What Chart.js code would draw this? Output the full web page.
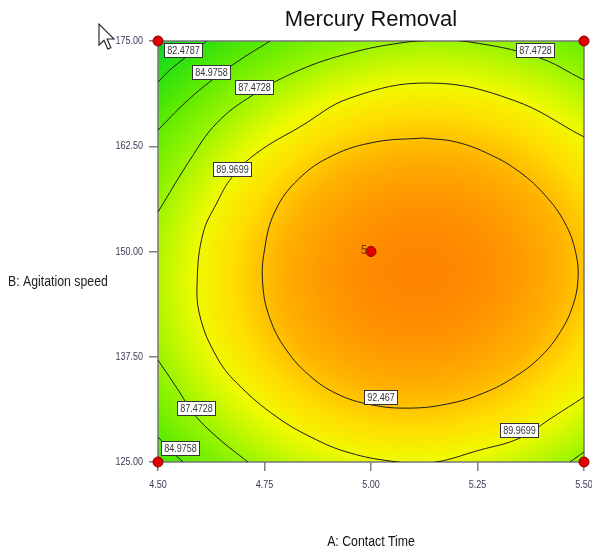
<!DOCTYPE html>
<html>
<head>
<meta charset="utf-8">
<script src="https://cdn.jsdelivr.net/npm/chart.js@4.4.1/dist/chart.umd.min.js"></script>
<style>
  body { margin: 0; background: #fff; }
  canvas { display: block; }
</style>
</head>
<body>
<canvas id="contourChart" width="592" height="550"></canvas>
<script>
// axis ticks
const timeTicks = [4.5, 4.75, 5.0, 5.25, 5.5];
const speedTicks = [125, 137.5, 150, 162.5, 175];

// fitted model in coded units: intercept, A, B, AB, A^2, B^2
const modelTerms = [94.66, 2.11, -1.32, 0.50, -4.49, -6.21];

// design points (A, B, replicates)
const designTime = [4.5, 4.5, 5.5, 5.5, 5.0];
const designSpeed = [125, 175, 125, 175, 150];
const designReps = [1, 1, 1, 1, 5];

// contour lines, [time, speed]
const c82 = [[4.615, 175.0], [4.563, 172.98], [4.528, 171.56], [4.5, 170.13]];
const c85top = [[4.763, 175.0], [4.692, 172.74], [4.627, 170.37], [4.563, 167.64], [4.5, 164.43]];
const c85low = [[4.5, 127.97], [4.528, 126.43], [4.559, 125.0]];
const c87top = [[4.5, 154.69], [4.575, 160.87], [4.638, 165.26], [4.723, 168.59], [4.833, 171.56],
  [4.951, 173.57], [5.068, 174.76], [5.150, 175.06], [5.232, 174.88], [5.390, 173.1], [5.5, 170.37]];
const c87low = [[4.5, 137.11], [4.552, 133.19], [4.582, 130.82], [4.638, 127.97], [4.711, 125.0]];
const c87corner = [[5.467, 125.0], [5.5, 126.19]];
const c90 = [[5.5, 163.6], [5.333, 167.99], [5.138, 170.01], [4.951, 168.23], [4.833, 164.79],
  [4.732, 161.70], [4.674, 158.85], [4.638, 155.76], [4.606, 152.20], [4.592, 146.62],
  [4.599, 142.22], [4.638, 137.47], [4.685, 134.38], [4.779, 130.34], [4.873, 127.61],
  [4.951, 126.07], [5.045, 125.12], [5.138, 124.88], [5.256, 126.43], [5.350, 127.85],
  [5.427, 130.34], [5.5, 132.72]];
const c92 = [[5.122, 163.48], [5.200, 163.0], [5.280, 161.5], [5.350, 159.4], [5.410, 156.6],
  [5.455, 153.4], [5.480, 150.0], [5.486, 146.8], [5.474, 143.6],
  [5.445, 140.5], [5.400, 137.6], [5.340, 135.2], [5.265, 133.2],
  [5.180, 131.9], [5.090, 131.4], [5.000, 131.8], [4.920, 133.1], [4.855, 135.3],
  [4.800, 138.4], [4.763, 142.0], [4.746, 146.0], [4.750, 150.2], [4.775, 154.8],
  [4.830, 158.6], [4.910, 161.4], [5.010, 163.0], [5.122, 163.48]];

// contour labels: [level, time, speed]
const labelSpots = [
  [82.4787, 4.559, 173.93], [84.9758, 4.624, 171.32], [87.4728, 4.725, 169.54],
  [87.4728, 5.385, 173.93], [89.9699, 4.674, 159.80], [92.467, 5.023, 132.72],
  [87.4728, 4.589, 131.41], [84.9758, 4.552, 126.66], [89.9699, 5.347, 128.80]
];

const sans = "'Liberation Sans', Arial, sans-serif";

function predict(a, b) {
  const m = modelTerms;
  return m[0] + m[1] * a + m[2] * b + m[3] * a * b + m[4] * a * a + m[5] * b * b;
}

// green -> yellow -> orange
const stops = [
  [80, [10, 215, 40]], [82.5, [45, 225, 15]], [85, [95, 235, 0]], [87.5, [155, 245, 0]],
  [90, [240, 250, 0]], [91.5, [255, 222, 0]], [93, [255, 178, 0]], [95, [255, 132, 0]]
];
function colorFor(v) {
  if (v <= stops[0][0]) return stops[0][1];
  for (let i = 1; i < stops.length; i++) {
    if (v <= stops[i][0]) {
      const t = (v - stops[i - 1][0]) / (stops[i][0] - stops[i - 1][0]);
      const c0 = stops[i - 1][1], c1 = stops[i][1];
      return [c0[0] + t * (c1[0] - c0[0]), c0[1] + t * (c1[1] - c0[1]), c0[2] + t * (c1[2] - c0[2])];
    }
  }
  return stops[stops.length - 1][1];
}

// narrow-looking text: squeeze a regular face horizontally
function narrowText(ctx, txt, x, y, size, align) {
  ctx.save();
  ctx.font = size + 'px ' + sans;
  ctx.textAlign = align;
  ctx.textBaseline = 'middle';
  ctx.translate(x, y);
  ctx.scale(0.82, 1);
  ctx.fillText(txt, 0, 0);
  ctx.restore();
}

const midTime = (timeTicks[0] + timeTicks[timeTicks.length - 1]) / 2;
const halfTime = (timeTicks[timeTicks.length - 1] - timeTicks[0]) / 2;
const midSpeed = (speedTicks[0] + speedTicks[speedTicks.length - 1]) / 2;
const halfSpeed = (speedTicks[speedTicks.length - 1] - speedTicks[0]) / 2;

const surfacePlugin = {
  id: 'surface',
  beforeDatasetsDraw(chart) {
    const { ctx, chartArea: area, scales: { x, y } } = chart;
    const left = Math.round(area.left), top = Math.round(area.top);
    const w = Math.round(area.right) - left, h = Math.round(area.bottom) - top;
    const img = ctx.createImageData(w, h);
    for (let j = 0; j < h; j++) {
      const b = (y.getValueForPixel(top + j + 0.5) - midSpeed) / halfSpeed;
      for (let i = 0; i < w; i++) {
        const a = (x.getValueForPixel(left + i + 0.5) - midTime) / halfTime;
        const c = colorFor(predict(a, b));
        const k = (j * w + i) * 4;
        img.data[k] = c[0];
        img.data[k + 1] = c[1];
        img.data[k + 2] = c[2];
        img.data[k + 3] = 255;
      }
    }
    ctx.putImageData(img, left, top);
    ctx.save();
    ctx.strokeStyle = '#777';
    ctx.lineWidth = 1.5;
    ctx.strokeRect(area.left, area.top, area.right - area.left, area.bottom - area.top);
    ctx.restore();
  }
};

const labelPlugin = {
  id: 'contourLabels',
  afterDatasetsDraw(chart) {
    const { ctx, scales: { x, y } } = chart;
    ctx.save();
    labelSpots.forEach(([level, t, s]) => {
      const px = x.getPixelForValue(t), py = y.getPixelForValue(s);
      const txt = String(level);
      ctx.font = '11px ' + sans;
      const w = Math.round(ctx.measureText(txt).width * 0.82 + 5);
      const bx = Math.round(px - w / 2) + 0.5, by = Math.round(py - 7) + 0.5;
      ctx.fillStyle = '#fff';
      ctx.fillRect(bx, by, w, 14);
      ctx.strokeStyle = '#333';
      ctx.lineWidth = 1;
      ctx.strokeRect(bx, by, w, 14);
      ctx.fillStyle = '#333';
      narrowText(ctx, txt, bx + w / 2, by + 7.5, 11, 'center');
    });
    // replicate count next to centre point
    ctx.fillStyle = '#6a3a00';
    designReps.forEach((n, i) => {
      if (n > 1) {
        narrowText(ctx, String(n), x.getPixelForValue(designTime[i]) - 4, y.getPixelForValue(designSpeed[i]) - 1, 13, 'right');
      }
    });
    ctx.restore();
  },
  afterDraw(chart) {
    const { ctx, chartArea: area, scales: { x, y } } = chart;
    const cx = (area.left + area.right) / 2;
    ctx.save();
    // tick labels
    ctx.fillStyle = '#3a3a55';
    timeTicks.forEach(v => narrowText(ctx, v.toFixed(2), x.getPixelForValue(v), area.bottom + 23, 11, 'center'));
    speedTicks.forEach(v => narrowText(ctx, v.toFixed(2), area.left - 15, y.getPixelForValue(v), 11, 'right'));
    // titles
    ctx.fillStyle = '#111';
    ctx.textAlign = 'center';
    ctx.textBaseline = 'middle';
    ctx.font = '22px ' + sans;
    ctx.fillText('Mercury Removal', cx, 20);
    narrowText(ctx, 'A: Contact Time', cx, 542, 15, 'center');
    ctx.fillStyle = '#222';
    narrowText(ctx, 'B: Agitation speed', 8, 282, 15, 'left');
    // mouse pointer left in the screenshot
    ctx.translate(99, 24);
    ctx.scale(1.25, 1.25);
    ctx.beginPath();
    ctx.moveTo(0, 0); ctx.lineTo(0, 17); ctx.lineTo(4, 13); ctx.lineTo(7, 20);
    ctx.lineTo(9.5, 19); ctx.lineTo(6.5, 12); ctx.lineTo(12, 12); ctx.closePath();
    ctx.fillStyle = '#fff';
    ctx.fill();
    ctx.lineWidth = 0.9;
    ctx.strokeStyle = '#222';
    ctx.stroke();
    ctx.restore();
  }
};

function lineSet(points) {
  return {
    data: points.map(p => ({ x: p[0], y: p[1] })),
    showLine: true,
    borderColor: '#1c1c1c',
    borderWidth: 1,
    pointRadius: 0,
    tension: 0.4,
    fill: false
  };
}

const contourLines = [c82, c85top, c85low, c87top, c87low, c87corner, c90, c92];

new Chart(document.getElementById('contourChart'), {
  type: 'scatter',
  data: {
    datasets: [
      ...contourLines.map(lineSet),
      {
        data: designTime.map((t, i) => ({ x: t, y: designSpeed[i] })),
        pointRadius: 5,
        pointBackgroundColor: '#e00000',
        pointBorderColor: '#8a0000',
        pointBorderWidth: 1,
        clip: false
      }
    ]
  },
  options: {
    responsive: false,
    animation: false,
    events: [],
    layout: { padding: { left: 0, right: 8, top: 41, bottom: 0 } },
    plugins: { legend: { display: false }, tooltip: { enabled: false } },
    scales: {
      x: {
        type: 'linear',
        min: timeTicks[0],
        max: timeTicks[timeTicks.length - 1],
        afterBuildTicks: s => { s.ticks = timeTicks.map(v => ({ value: v })); },
        afterFit: s => { s.height = 88; s.paddingLeft = 0; s.paddingRight = 0; },
        ticks: { display: false },
        grid: { drawOnChartArea: false, tickLength: 9, color: '#808080', lineWidth: 1.5 },
        border: { display: false }
      },
      y: {
        type: 'linear',
        min: speedTicks[0],
        max: speedTicks[speedTicks.length - 1],
        afterBuildTicks: s => { s.ticks = speedTicks.map(v => ({ value: v })); },
        afterFit: s => { s.width = 158; s.paddingTop = 0; s.paddingBottom = 0; },
        ticks: { display: false },
        grid: { drawOnChartArea: false, tickLength: 9, color: '#808080', lineWidth: 1.5 },
        border: { display: false }
      }
    }
  },
  plugins: [surfacePlugin, labelPlugin]
});
</script>
</body>
</html>
